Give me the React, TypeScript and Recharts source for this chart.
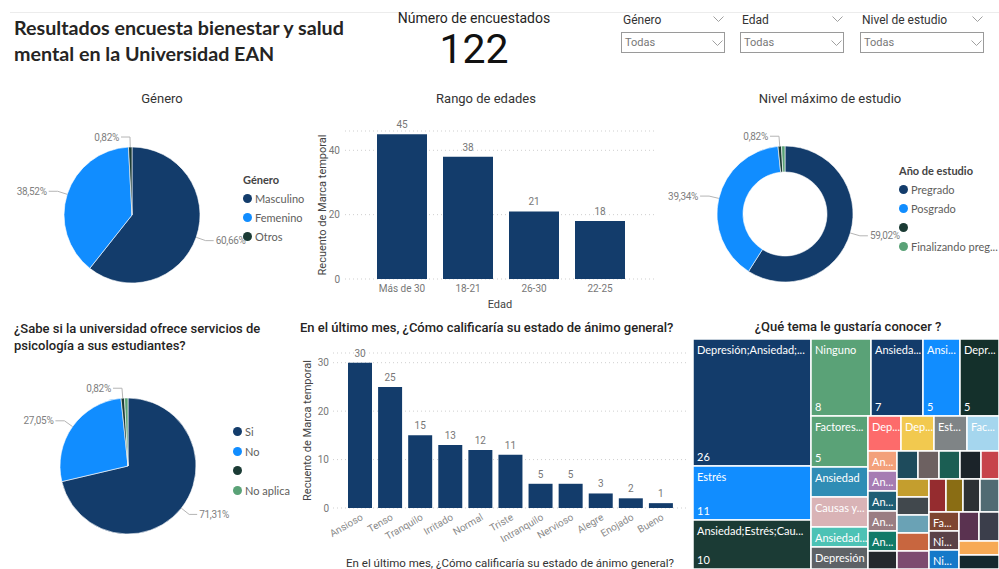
import React from "react"
import { BarChart, Bar, XAxis, YAxis, CartesianGrid, LabelList, PieChart, Pie, Cell, Treemap } from "recharts"

// colores del tema
const NAVY = "#133C6B"
const BLUE = "#118DFF"
const DARK = "#1B3B35"
const GREEN = "#5AA277"

// Género
const generoNames = ["Masculino", "Femenino", "Otros"]
const generoCounts = [74, 47, 1]

// Rango de edades
const edadCats = ["Más de 30", "18-21", "26-30", "22-25"]
const edadCounts = [45, 38, 21, 18]

// Nivel máximo de estudio
const nivelNames = ["Pregrado", "Posgrado", "", "Finalizando pregrado"]
const nivelCounts = [72, 48, 1, 1]

// ¿Sabe si la universidad ofrece servicios de psicología?
const psicoNames = ["Si", "No", "", "No aplica"]
const psicoCounts = [87, 33, 1, 1]

// Estado de ánimo
const animoCats = ["Ansioso", "Tenso", "Tranquilo", "Irritado", "Normal", "Triste", "Intranquilo", "Nervioso", "Alegre", "Enojado", "Bueno"]
const animoCounts = [30, 25, 15, 13, 12, 11, 5, 5, 3, 2, 1]

// ¿Qué tema le gustaría conocer?
const temaNames = [
  "Depresión;Ansiedad;Estrés", "Estrés", "Ansiedad;Estrés;Causas y consecuencias", "Ninguno",
  "Ansiedad;Depresión", "Ansiedad;Estrés", "Depresión;Estrés", "Factores de riesgo",
  "Ansiedad", "Causas y consecuencias", "Ansiedad;Causas y consecuencias", "Depresión",
  "Depresión;Causas y consecuencias", "Depresión;Factores de riesgo", "Estrés;Ansiedad", "Factores de riesgo;Estrés",
  "Ansiedad;Ninguno", "Ansiedad;Factores de riesgo", "Ansiedad;Depresión;Causas", "Ansiedad;Estrés;Factores",
  "Ansiedad;Causas;Factores", "Ansiedad;Depresión;Factores",
  "Depresión;Ninguno", "Depresión;Estrés;Causas", "Depresión;Estrés;Factores", "Depresión;Causas;Factores",
  "Estrés;Causas", "Estrés;Factores", "Estrés;Depresión", "Estrés;Ninguno", "Causas;Factores", "Causas;Estrés",
  "Causas;Depresión", "Causas;Ansiedad", "Factores;Ansiedad", "Factores;Depresión",
  "Factores;Causas", "Ninguno;Estrés", "Ninguno;Ansiedad", "Estrés;Ansiedad;Causas", "Estrés;Depresión;Causas",
  "Causas;Ansiedad;Estrés", "Factores;Estrés;Ansiedad",
]
const temaCounts = [
  26, 11, 10, 8, 7, 5, 5, 5, 3, 3, 2, 2, 2, 2, 2, 2,
  1, 1, 1, 1, 1, 1, 1, 1, 1, 1, 1, 1, 1, 1, 1, 1, 1, 1, 1, 1, 1, 1, 1, 1, 1, 1, 1,
]
const TEMA_COLORS = [
  NAVY, BLUE, DARK, GREEN, NAVY, BLUE, "#14302B", GREEN,
  "#2F8DB5", "#D9B3B6", "#4CC2B5", "#5E6266", "#FD6B6B", "#F2C94F", "#7F8486", "#A5D6EE",
  "#F3A07A", "#A67CB3", "#1F5E74", "#9A7D82", "#117A68", "#24292D",
  "#1E4B5C", "#6D6161", "#1B5E53", "#1B2329",
  "#C7434B", "#C49E2E", "#41484D", "#6AA2B5", "#C8663F", "#7D4B70",
  "#952C2F", "#8A6D14", "#2D3034", "#506B73",
  "#7E4631", "#5B4247", "#1479C9", "#5A3250", "#3B3E4B", "#F7AA55", "#14292E",
]

const RAD = Math.PI / 180
const FONT_DIN = "Roboto, sans-serif"
const FONT_UI = "Lato, sans-serif"

const edadData = edadCats.map((c, i) => ({ edad: c, recuento: edadCounts[i] }))
const animoData = animoCats.map((c, i) => ({ animo: c, recuento: animoCounts[i] }))
const temaData = temaNames.map((n, i) => ({ name: n, value: temaCounts[i] }))
const toPie = (names: string[], counts: number[]) => names.map((n, i) => ({ name: n || "(en blanco)", value: counts[i] }))

// etiqueta estilo Power BI: tramo radial + tramo horizontal
function pieLabel(counts: number[]) {
  const total = counts.reduce((a, b) => a + b, 0)
  return (p: any) => {
    const { cx, cy, midAngle, outerRadius, index } = p
    if (index > 0 && counts[index - 1] / total < 0.02) return <g />
    const cos = Math.cos(-midAngle * RAD)
    const sin = Math.sin(-midAngle * RAD)
    const sx = cx + outerRadius * cos
    const sy = cy + outerRadius * sin
    const mx = cx + (outerRadius + 10) * cos
    const my = cy + (outerRadius + 10) * sin
    const right = cos >= 0
    const ex = mx + (right ? 8 : -9)
    const pct = ((counts[index] / total) * 100).toFixed(2).replace(".", ",") + "%"
    return (
      <g>
        <polyline points={`${sx},${sy} ${mx},${my} ${ex},${my}`} fill="none" stroke="#b5b5b5" strokeWidth={1} />
        <text x={ex + (right ? 2 : -2)} y={my} dy={3.5} textAnchor={right ? "start" : "end"} fontSize={10} letterSpacing={-0.3} fill="#808080" fontFamily={FONT_DIN}>
          {pct}
        </text>
      </g>
    )
  }
}

function PieLegend({ left, top, gap, title, names, colors, maxChars = 30 }: any) {
  return (
    <div style={{ position: "absolute", left, top, fontFamily: FONT_UI, fontSize: 11, color: "#605E5C" }}>
      {title && <div style={{ fontWeight: 700, color: "#444", height: gap, lineHeight: gap + "px" }}>{title}</div>}
      {names.map((n: string, i: number) => (
        <div key={i} style={{ display: "flex", alignItems: "center", height: gap, whiteSpace: "nowrap" }}>
          <span style={{ width: 9, height: 9, borderRadius: "50%", background: colors[i], marginRight: 3, flex: "none" }} />
          <span>{n.length > maxChars ? n.slice(0, maxChars) + "..." : n}</span>
        </div>
      ))}
    </div>
  )
}

function Chevron({ x, y, color = "#a0a0a0" }: any) {
  return (
    <svg style={{ position: "absolute", left: x, top: y }} width={11} height={7}>
      <polyline points="0.5,0.5 5.5,5.5 10.5,0.5" fill="none" stroke={color} strokeWidth={1} />
    </svg>
  )
}

function Slicer({ left, width, title }: any) {
  return (
    <>
      <div style={{ position: "absolute", left: left + 2, top: 12, fontSize: 12, lineHeight: "16px", color: "#333", fontFamily: FONT_DIN }}>{title}</div>
      <Chevron x={left + width - 12} y={16} />
      <div style={{ position: "absolute", left, top: 32, width: width - 2, height: 19, border: "1px solid #9a9a9a" }}>
        <span style={{ position: "absolute", left: 3, top: 2, fontSize: 11, lineHeight: "15px", color: "#777", fontFamily: FONT_DIN }}>Todas</span>
      </div>
      <Chevron x={left + width - 13} y={40} />
    </>
  )
}

function fit(name: string, w: number) {
  const n = Math.floor((w - 15) / 5.2)
  if (n < 2) return ""
  return name.length <= n + 2 ? name : name.slice(0, n) + "..."
}

function TopicCell(props: any) {
  const { x, y, width, height, index, depth, name, value } = props
  if (depth !== 1) return <g />
  const label = width >= 26 && height >= 19 ? fit(name, width) : ""
  return (
    <g>
      <rect x={x} y={y} width={width} height={height} fill={TEMA_COLORS[index % TEMA_COLORS.length]} stroke="#fff" strokeWidth={1.5} />
      {label && (
        <text x={x + 4} y={y + 15} fill="#fff" fontSize={11} fontFamily={FONT_UI}>
          {label}
        </text>
      )}
      {height >= 44 && (
        <text x={x + 4} y={y + height - 5} fill="#fff" fontSize={11} fontFamily={FONT_UI}>
          {value}
        </text>
      )}
    </g>
  )
}

const abs = (left: number, top: number, extra: any = {}) => ({ position: "absolute" as const, left, top, ...extra })

export default function App() {
  return (
    <div style={{ position: "absolute", left: 0, top: 0, width: 999, height: 569, overflow: "hidden", background: "#fff", fontFamily: FONT_DIN, color: "#252423" }}>
      <div style={abs(10, 12, { width: 989, height: 1, background: "#ececec" })} />

      {/* encabezado */}
      <div style={abs(14, 15, { fontFamily: FONT_UI, fontWeight: 700, fontSize: 19.7, lineHeight: "26px", color: "#252423" })}>
        Resultados encuesta bienestar y salud
        <br />
        mental en la Universidad EAN
      </div>
      <div style={abs(374, 9, { width: 200, textAlign: "center", fontSize: 14, lineHeight: "18px" })}>Número de encuestados</div>
      <div style={abs(374, 27, { width: 200, textAlign: "center", fontSize: 41, lineHeight: "44px", color: "#111" })}>122</div>

      <Slicer left={621} width={104} title="Género" />
      <Slicer left={740} width={104} title="Edad" />
      <Slicer left={860} width={124} title="Nivel de estudio" />

      {/* fila superior: títulos */}
      <div style={abs(62, 90, { width: 200, textAlign: "center", fontSize: 13, lineHeight: "18px", color: "#333" })}>Género</div>
      <div style={abs(386, 90, { width: 200, textAlign: "center", fontSize: 13, lineHeight: "18px", color: "#333" })}>Rango de edades</div>
      <div style={abs(730, 90, { width: 200, textAlign: "center", fontSize: 13, lineHeight: "18px", color: "#333" })}>Nivel máximo de estudio</div>

      {/* Género */}
      <div style={abs(0, 110)}>
        <PieChart width={300} height={200}>
          <Pie data={toPie(generoNames, generoCounts)} dataKey="value" cx={127} cy={100} outerRadius={68} startAngle={90} endAngle={-270}
            stroke="#fff" strokeWidth={0.6} label={pieLabel(generoCounts)} labelLine={false} isAnimationActive={false}>
            {generoNames.map((_, i) => (
              <Cell key={i} fill={[NAVY, BLUE, DARK][i]} />
            ))}
          </Pie>
        </PieChart>
      </div>
      <PieLegend left={243} top={170.6} gap={18.7} title="Género" names={generoNames} colors={[NAVY, BLUE, DARK]} />

      {/* Rango de edades */}
      <div style={abs(300, 110)}>
        <BarChart width={370} height={200} data={edadData} margin={{ top: 21, right: 15, bottom: 0, left: 0 }}>
          <CartesianGrid vertical={false} stroke="#cfcfcf" strokeDasharray="1 3" />
          <XAxis dataKey="edad" axisLine={false} tickLine={false} tickSize={0} tickMargin={6} padding={{ left: 24, right: 22 }} height={31} interval={0}
            tick={{ fontSize: 10, fill: "#777", fontFamily: FONT_DIN }}
            label={{ value: "Edad", position: "insideBottom", offset: 2, fontSize: 11, fill: "#444", fontFamily: FONT_DIN }} />
          <YAxis domain={[0, 46]} ticks={[0, 20, 40]} width={45} axisLine={false} tickLine={false} tickSize={0} tickMargin={5}
            tick={{ fontSize: 10, fill: "#777", fontFamily: FONT_DIN }}
            label={{ value: "Recuento de Marca temporal", angle: -90, position: "insideLeft", offset: 22, style: { textAnchor: "middle" }, fontSize: 11, fill: "#444", fontFamily: FONT_DIN }} />
          <Bar dataKey="recuento" fill={NAVY} barSize={50} isAnimationActive={false}>
            <LabelList dataKey="recuento" position="top" offset={6} fontSize={10} fill="#777" fontFamily={FONT_DIN} />
          </Bar>
        </BarChart>
      </div>

      {/* Nivel máximo de estudio */}
      <div style={abs(620, 110)}>
        <PieChart width={300} height={200}>
          <Pie data={toPie(nivelNames, nivelCounts)} dataKey="value" cx={160} cy={99} innerRadius={42} outerRadius={68} startAngle={90} endAngle={-270}
            stroke="#fff" strokeWidth={0.6} label={pieLabel(nivelCounts)} labelLine={false} isAnimationActive={false}>
            {nivelNames.map((_, i) => (
              <Cell key={i} fill={[NAVY, BLUE, DARK, GREEN][i]} />
            ))}
          </Pie>
        </PieChart>
      </div>
      <PieLegend left={899} top={160.5} gap={19} title="Año de estudio" names={nivelNames} colors={[NAVY, BLUE, DARK, GREEN]} maxChars={16} />

      {/* fila inferior: títulos */}
      <div style={abs(14, 319.5, { fontSize: 13, lineHeight: "17px", fontWeight: 500, color: "#252423" })}>
        ¿Sabe si la universidad ofrece servicios de
        <br />
        psicología a sus estudiantes?
      </div>
      <div style={abs(300, 319, { fontSize: 13, lineHeight: "18px", fontWeight: 500, color: "#252423", whiteSpace: "nowrap" })}>
        En el último mes, ¿Cómo calificaría su estado de ánimo general?
      </div>
      <div style={abs(698, 318, { width: 300, textAlign: "center", fontSize: 13, lineHeight: "18px", fontWeight: 500, color: "#252423" })}>
        ¿Qué tema le gustaría conocer ?
      </div>

      {/* Servicios de psicología */}
      <div style={abs(0, 370)}>
        <PieChart width={300} height={190}>
          <Pie data={toPie(psicoNames, psicoCounts)} dataKey="value" cx={123} cy={91} outerRadius={68} startAngle={90} endAngle={-270}
            stroke="#fff" strokeWidth={0.6} label={pieLabel(psicoCounts)} labelLine={false} isAnimationActive={false}>
            {psicoNames.map((_, i) => (
              <Cell key={i} fill={[NAVY, BLUE, DARK, GREEN][i]} />
            ))}
          </Pie>
        </PieChart>
      </div>
      <PieLegend left={233} top={422} gap={19.6} names={psicoNames} colors={[NAVY, BLUE, DARK, GREEN]} />

      {/* Estado de ánimo */}
      <div style={abs(300, 340)}>
        <BarChart width={390} height={229} data={animoData} margin={{ top: 13, right: 3, bottom: 0, left: 0 }}>
          <CartesianGrid vertical={false} stroke="#cfcfcf" strokeDasharray="1 3" />
          <XAxis dataKey="animo" axisLine={false} tickLine={false} tickSize={0} tickMargin={5} padding={{ left: 12, right: 11 }} height={61} interval={0}
            angle={-30} textAnchor="end" tick={{ fontSize: 10, fill: "#8a8a8a", fontFamily: FONT_DIN }}
            label={{ value: "En el último mes, ¿Cómo calificaría su estado de ánimo general?", position: "insideBottom", offset: 2, fontSize: 11.5, fill: "#333", fontFamily: FONT_DIN }} />
          <YAxis domain={[0, 32]} ticks={[0, 10, 20, 30]} width={33} axisLine={false} tickLine={false} tickSize={0} tickMargin={4}
            tick={{ fontSize: 10, fill: "#777", fontFamily: FONT_DIN }}
            label={{ value: "Recuento de Marca temporal", angle: -90, position: "insideLeft", offset: 7, style: { textAnchor: "middle" }, fontSize: 11, fill: "#444", fontFamily: FONT_DIN }} />
          <Bar dataKey="recuento" fill={NAVY} barSize={24} isAnimationActive={false}>
            <LabelList dataKey="recuento" position="top" offset={6} fontSize={10} fill="#777" fontFamily={FONT_DIN} />
          </Bar>
        </BarChart>
      </div>

      {/* Temas */}
      <div style={abs(693, 339)}>
        <Treemap width={306} height={230} data={temaData} dataKey="value" nameKey="name" isAnimationActive={false}
          content={(p: any) => <TopicCell {...p} />} />
      </div>
    </div>
  )
}
